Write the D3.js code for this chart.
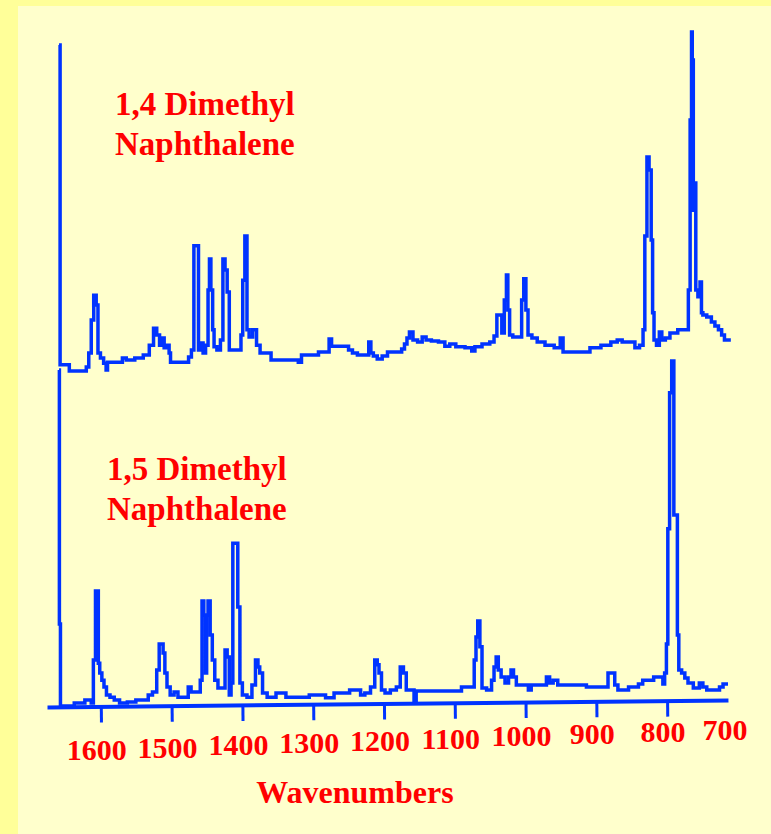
<!DOCTYPE html>
<html>
<head>
<meta charset="utf-8">
<script src="https://cdn.jsdelivr.net/npm/d3@7"></script>
<style>
  body { margin: 0; background: #FFFFCC; }
  svg { display: block; }
</style>
</head>
<body>
<div id="spectra"></div>
<script>
// spectra: [wavenumber, relative absorbance 0-100]
const topSpectrum = [
  [1659, 96.2], [1656, 2.1], [1645, 2.1], [1644, 0.3], [1622, 0.3], [1619, 1.5], [1615, 5.6],
  [1612, 15.3], [1608, 22.6], [1605, 19.7], [1603, 5.6], [1598, 4.1], [1594, 2.6], [1591, 0.6],
  [1590, 2.9], [1570, 2.9], [1569, 4.1], [1559, 3.5], [1545, 4.1], [1535, 5.0], [1528, 7.9],
  [1523, 12.9], [1519, 10.9], [1515, 7.9], [1512, 10.0], [1509, 7.1], [1505, 7.9], [1502, 5.6],
  [1501, 2.9], [1478, 2.9], [1474, 4.4], [1470, 6.5], [1467, 37.1], [1463, 37.1], [1461, 6.5],
  [1457, 8.5], [1454, 5.6], [1450, 7.9], [1447, 24.1], [1446, 33.2], [1443, 24.1], [1441, 12.4],
  [1439, 7.4], [1433, 6.5], [1429, 9.4], [1426, 33.2], [1423, 30.0], [1420, 23.5], [1417, 6.5],
  [1403, 6.5], [1401, 10.9], [1398, 27.0], [1395, 40.0], [1392, 12.4], [1389, 10.3], [1382, 12.4],
  [1378, 7.9], [1372, 5.6], [1361, 5.6], [1358, 3.5], [1323, 3.5], [1319, 2.9], [1314, 5.0],
  [1295, 5.0], [1290, 5.9], [1279, 5.9], [1276, 9.7], [1272, 7.6], [1269, 7.6], [1252, 7.6],
  [1248, 6.5], [1241, 5.6], [1234, 5.0], [1223, 5.0], [1220, 8.8], [1217, 5.6], [1213, 4.7],
  [1206, 3.8], [1199, 4.7], [1191, 5.9], [1177, 5.9], [1173, 6.8], [1169, 8.2], [1166, 10.0],
  [1162, 11.8], [1156, 9.4], [1149, 8.8], [1143, 10.3], [1138, 9.4], [1128, 9.1], [1118, 8.8],
  [1110, 7.6], [1104, 8.2], [1093, 7.4], [1078, 7.1], [1074, 6.2], [1069, 7.4], [1054, 8.2],
  [1047, 8.8], [1042, 10.6], [1039, 16.8], [1035, 16.8], [1032, 11.5], [1028, 21.2], [1026, 28.5],
  [1024, 18.2], [1021, 10.9], [1015, 10.3], [1007, 10.3], [1004, 21.2], [1001, 27.4], [998, 18.2],
  [995, 10.9], [987, 10.0], [980, 8.8], [965, 7.9], [954, 7.1], [948, 10.0], [946, 5.9],
  [916, 5.9], [902, 7.1], [885, 7.9], [874, 8.8], [867, 9.4], [860, 8.8], [848, 8.8],
  [843, 7.1], [835, 7.9], [833, 12.4], [830, 40.0], [827, 63.2], [824, 59.4], [821, 38.8],
  [820, 17.4], [817, 9.4], [813, 7.9], [809, 11.8], [806, 9.4], [799, 10.0], [793, 11.5],
  [777, 12.4], [771, 12.4], [769, 24.1], [766, 74.1], [765, 100], [764, 91.8], [762, 47.6],
  [761, 55.6], [758, 24.1], [755, 22.1], [752, 26.5], [751, 17.4], [748, 16.8], [740, 16.2],
  [735, 14.7], [730, 13.5], [725, 12.4], [721, 10.9], [717, 9.4], [710, 9.4]
];

const bottomSpectrum = [
  [1659, 98.8], [1658, 24.1], [1656, 0], [1639, 0], [1636, 0.9], [1624, 0.9], [1621, 1.8],
  [1615, 1.8], [1612, 0.9], [1609, 13.5], [1606, 33.8], [1604, 33.8], [1603, 12.6], [1600, 9.7],
  [1597, 7.6], [1594, 5.6], [1590, 3.2], [1584, 2.6], [1578, 1.8], [1569, 0.9], [1556, 1.2],
  [1545, 1.8], [1535, 1.8], [1531, 3.2], [1523, 4.1], [1519, 10.6], [1516, 18.2], [1513, 18.2],
  [1511, 15.6], [1508, 9.7], [1505, 5.6], [1499, 3.2], [1494, 4.1], [1488, 2.6], [1478, 2.6],
  [1475, 5.6], [1470, 4.1], [1461, 4.1], [1458, 7.6], [1456, 30.9], [1453, 26.8], [1451, 9.7],
  [1450, 26.8], [1447, 30.9], [1444, 20.9], [1441, 13.5], [1437, 7.6], [1432, 5.3], [1426, 5.3],
  [1423, 16.5], [1420, 14.4], [1417, 3.2], [1415, 6.8], [1412, 47.9], [1408, 47.9], [1405, 29.1],
  [1402, 6.8], [1398, 3.2], [1389, 2.6], [1384, 6.2], [1379, 13.5], [1377, 11.5], [1374, 9.7],
  [1369, 3.8], [1361, 2.6], [1344, 3.8], [1333, 2.6], [1309, 2.6], [1302, 3.2], [1286, 3.2],
  [1279, 2.4], [1262, 3.8], [1235, 4.7], [1231, 3.2], [1223, 3.8], [1215, 5.6], [1211, 13.5],
  [1208, 12.1], [1206, 9.7], [1201, 4.7], [1196, 3.8], [1186, 4.7], [1179, 5.6], [1175, 11.5],
  [1170, 9.7], [1167, 4.7], [1159, 4.7], [1156, 1.2], [1153, 4.4], [1093, 4.4], [1088, 5.6],
  [1074, 5.6], [1071, 13.5], [1069, 20.3], [1066, 25.0], [1063, 17.4], [1060, 5.3], [1050, 4.7],
  [1046, 7.6], [1043, 11.5], [1040, 14.4], [1037, 10.6], [1032, 8.5], [1026, 6.8], [1022, 8.5],
  [1019, 10.6], [1015, 8.5], [1011, 6.2], [998, 6.2], [994, 4.7], [990, 6.2], [973, 6.2],
  [968, 8.5], [964, 6.8], [958, 7.6], [951, 6.2], [916, 6.2], [912, 5.6], [885, 5.6],
  [882, 9.7], [876, 9.7], [872, 6.2], [867, 4.7], [857, 4.7], [852, 5.6], [843, 5.6],
  [838, 6.5], [831, 7.6], [821, 7.6], [817, 8.5], [807, 8.5], [805, 6.5], [802, 9.7],
  [800, 18.2], [798, 52.1], [795, 92.1], [792, 101.5], [789, 56.2], [786, 56.2], [785, 20.9],
  [782, 10.6], [777, 9.7], [773, 8.2], [768, 6.8], [758, 5.3], [751, 6.8], [748, 5.6],
  [740, 4.7], [728, 4.7], [724, 5.6], [718, 6.5], [714, 6.5]
];

const tickValues = [1600, 1500, 1400, 1300, 1200, 1100, 1000, 900, 800];
const tickLabels = [1600, 1500, 1400, 1300, 1200, 1100, 1000, 900, 800, 700];
const topTitle = ["1,4 Dimethyl", "Naphthalene"];
const bottomTitle = ["1,5 Dimethyl", "Naphthalene"];
const axisTitle = "Wavenumbers";

// canvas setup
const width = 771, height = 834;
const blue = "#0033FF", red = "#FF0000";
const serif = "'Liberation Serif', 'Times New Roman', serif";

const svg = d3.select("#spectra")
    .append("svg")
    .attr("width", width)
    .attr("height", height);

// yellow frame, paler panel
svg.append("rect")
    .attr("width", width)
    .attr("height", height)
    .attr("fill", "#FFFF99");
svg.append("rect")
    .attr("x", 18)
    .attr("y", 6)
    .attr("width", width - 18)
    .attr("height", height - 6)
    .attr("fill", "#FFFFCC");

// scales: wavenumbers run right to left
const x = d3.scaleLinear().domain([1676, 714]).range([47, 728]);
const yTop = d3.scaleLinear().domain([0, 100]).range([372, 32]);
const yBottom = d3.scaleLinear().domain([0, 100]).range([706, 366]);

// the scan is low-res, so the traces come out as little stairs
const trace = y => d3.line()
    .x(d => x(d[0]))
    .y(d => y(d[1]))
    .curve(d3.curveStep);

// axis (the scan is a little tilted)
const tilt = Math.atan2(-7, 681) * 180 / Math.PI;
const axis = svg.append("g")
    .attr("transform", `translate(0,707) rotate(${tilt},47,0)`)
    .call(d3.axisBottom(x)
        .tickValues(tickValues)
        .tickSize(16)
        .tickSizeOuter(0)
        .tickFormat(""));
axis.select(".domain")
    .attr("stroke", blue)
    .attr("stroke-width", 4);
axis.selectAll(".tick line")
    .attr("stroke", blue)
    .attr("stroke-width", 3);

// the two spectra
[[bottomSpectrum, yBottom], [topSpectrum, yTop]].forEach(([data, y]) => {
    svg.append("path")
        .datum(data)
        .attr("d", trace(y))
        .attr("fill", "none")
        .attr("stroke", blue)
        .attr("stroke-width", 3.5);
});

// tick labels sit on a slightly rising line
const labelX = d => Math.min(x(d) - 4, 725);
svg.append("g")
    .selectAll("text")
    .data(tickLabels)
    .join("text")
    .attr("x", labelX)
    .attr("y", d => 760 - (labelX(d) - 92) * 20 / 633)
    .attr("text-anchor", "middle")
    .attr("font-family", serif)
    .attr("font-weight", "bold")
    .attr("font-size", 30)
    .attr("fill", red)
    .text(d => d);

svg.append("text")
    .attr("x", 355)
    .attr("y", 803)
    .attr("text-anchor", "middle")
    .attr("font-family", serif)
    .attr("font-weight", "bold")
    .attr("font-size", 32)
    .attr("fill", red)
    .text(axisTitle);

// compound names
function title(lines, left, top) {
    svg.append("text")
        .attr("font-family", serif)
        .attr("font-weight", "bold")
        .attr("font-size", 33)
        .attr("fill", red)
        .selectAll("tspan")
        .data(lines)
        .join("tspan")
        .attr("x", left)
        .attr("y", (_, i) => top + i * 40)
        .text(d => d);
}
title(topTitle, 115, 115);
title(bottomTitle, 107, 480);
</script>
</body>
</html>
